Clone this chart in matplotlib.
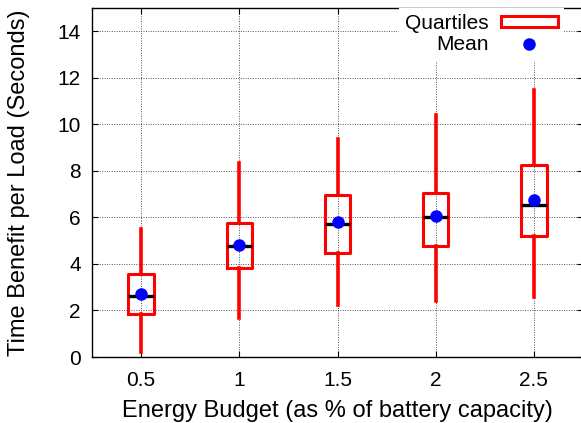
import matplotlib
matplotlib.use("Agg")
import matplotlib.pyplot as plt
from matplotlib.patches import Rectangle
from matplotlib.lines import Line2D

plt.rcParams['font.family'] = ['Liberation Sans', 'DejaVu Sans']

# energy budget (as % of battery capacity)
budgets = [0.5, 1.0, 1.5, 2.0, 2.5]
tick_labels = ["0.5", "1", "1.5", "2", "2.5"]

# box plot statistics (seconds)
whisker_low = [0.23, 1.66, 2.23, 2.42, 2.58]
q1 = [1.86, 3.81, 4.48, 4.77, 5.20]
median = [2.63, 4.75, 5.71, 6.00, 6.53]
q3 = [3.58, 5.74, 6.96, 7.07, 8.26]
whisker_high = [5.52, 8.33, 9.35, 10.40, 11.49]
mean = [2.69, 4.81, 5.80, 6.08, 6.74]

stats = []
for i in range(len(budgets)):
    stats.append({
        "whislo": whisker_low[i], "q1": q1[i], "med": median[i],
        "q3": q3[i], "whishi": whisker_high[i], "mean": mean[i],
    })

fig = plt.figure(figsize=(5.81, 4.23), dpi=100)
ax = fig.add_axes([92 / 581, 1 - 357 / 423, 491 / 581, 349 / 423])

ax.bxp(stats, positions=budgets, widths=0.13, showcaps=False,
       showmeans=True, showfliers=False, manage_ticks=False,
       boxprops=dict(color="red", linewidth=2.2),
       whiskerprops=dict(color="red", linewidth=2.6),
       medianprops=dict(color="black", linewidth=2.4),
       meanprops=dict(marker="o", markerfacecolor="blue",
                      markeredgecolor="blue", markersize=8))

ax.set_xlim(0.25, 2.75)
ax.set_ylim(0, 15)
ax.set_xticks(budgets)
ax.set_xticklabels(tick_labels)
ax.set_yticks(range(0, 15, 2))
ax.tick_params(direction="in", labelsize=15, top=True, right=True,
               length=4, pad=8)
ax.tick_params(axis="x", pad=10)
ax.grid(True, color="#555555", linestyle=(0, (1, 1.5)), linewidth=0.7)
ax.set_axisbelow(True)
for s in ax.spines.values():
    s.set_linewidth(1.0)

ax.set_xlabel("Energy Budget (as % of battery capacity)", fontsize=17, labelpad=7)
ax.set_ylabel("Time Benefit per Load (Seconds)", fontsize=17, labelpad=20)

handles = [
    Rectangle((0, 0), 1, 1, facecolor="white", edgecolor="red", linewidth=2.2),
    Line2D([], [], linestyle="none", marker="o", markerfacecolor="blue",
           markeredgecolor="blue", markersize=8),
]
leg = ax.legend(handles, ["Quartiles", "Mean"], loc="upper right",
                markerfirst=False, fontsize=15, frameon=True, fancybox=False,
                edgecolor="none", framealpha=1, borderaxespad=0,
                borderpad=0.3, handlelength=2.7, handleheight=0.45,
                labelspacing=0.1, handletextpad=0.6,
                bbox_to_anchor=(0.961, 1.0))

fig.savefig("out.png", dpi=100)
